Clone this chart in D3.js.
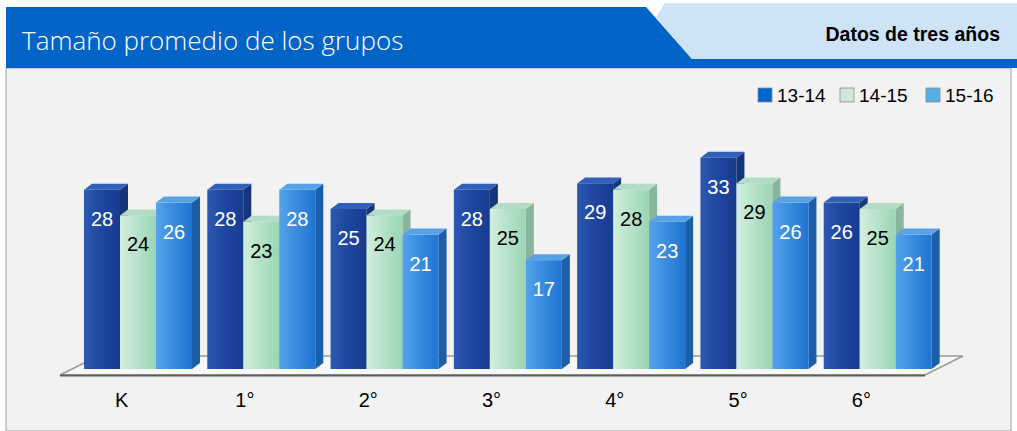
<!DOCTYPE html>
<html><head><meta charset="utf-8">
<script src="https://cdn.jsdelivr.net/npm/d3@7"></script>
<style>html,body{margin:0;padding:0;background:#fff;}svg{display:block;}</style>
</head><body>
<svg id="chart" width="1017" height="431"></svg>
<script>
const categories = ["K", "1°", "2°", "3°", "4°", "5°", "6°"];
const seriesNames = ["13-14", "14-15", "15-16"];
const values1314 = [28, 28, 25, 28, 29, 33, 26];
const values1415 = [24, 23, 24, 25, 28, 29, 25];
const values1516 = [26, 28, 21, 17, 23, 26, 21];
const title = "Tamaño promedio de los grupos";
const subtitle = "Datos de tres años";

const seriesValues = [values1314, values1415, values1516];
const W = 1017, H = 431;
const svg = d3.select("#chart");
const defs = svg.append("defs");

// background
svg.append("rect").attr("x", 0).attr("y", 0).attr("width", W).attr("height", H).attr("fill", "#ffffff");
svg.append("rect").attr("x", 6).attr("y", 68).attr("width", 1005).attr("height", H - 68)
  .attr("fill", "#f2f2f2").attr("stroke", "#a0a0a0").attr("stroke-width", 1);

// header
svg.append("polygon").attr("points", "6,7 646,7 692,59 1017,59 1017,68 6,68").attr("fill", "#0364c8");
svg.append("polygon").attr("points", "665,3 1017,3 1017,59 692,59 656,17").attr("fill", "#cfe3f6");
svg.append("text").attr("x", 22).attr("y", 50).attr("fill", "#ffffff")
  .attr("font-family", "'Open Sans', sans-serif").attr("font-weight", 300).attr("font-size", 26)
  .text(title);
svg.append("text").attr("x", 1000).attr("y", 41).attr("text-anchor", "end").attr("fill", "#000")
  .attr("font-family", "'Liberation Sans', Arial, sans-serif").attr("font-weight", "bold").attr("font-size", 19.5)
  .text(subtitle);

// scales
const baseY = 369;
const x0 = d3.scaleBand().domain(categories).range([74, 937]).padding(0);
const x1 = d3.scaleBand().domain(seriesNames).range([10, 118]).padding(0);
const y = d3.scaleLinear().domain([0, 35]).range([baseY, baseY - 35 * 6.4]);
const dx = 8, dy = 6;

// floor
svg.append("polygon").attr("points", "60,375 925,375 963,356 98,356")
  .attr("fill", "#f7f7f7").attr("stroke", "#9a9a9a").attr("stroke-width", 1.5);
svg.append("line").attr("x1", 60).attr("x2", 925).attr("y1", 375.5).attr("y2", 375.5)
  .attr("stroke", "#5e5e5e").attr("stroke-width", 2);

// colors
const palette = [
  {l: "#2d58b0", m: "#1f47a2", r: "#173b8e", side: "#14347c", top: "#3160b8", label: "#ffffff", legend: "#0066cc"},
  {l: "#d2efdf", m: "#b8e3ca", r: "#9bd5b4", side: "#88b59c", top: "#b4dcc4", label: "#000000", legend: "#cfe8dc"},
  {l: "#55a3ea", m: "#3b8de0", r: "#1f74d2", side: "#1d5ea8", top: "#5aa2e6", label: "#ffffff", legend: "#5aaee6"}
];
palette.forEach((p, i) => {
  const g = defs.append("linearGradient").attr("id", "front" + i).attr("x1", "0").attr("x2", "1").attr("y1", "0").attr("y2", "0");
  g.append("stop").attr("offset", "0").attr("stop-color", p.l);
  g.append("stop").attr("offset", "0.45").attr("stop-color", p.m);
  g.append("stop").attr("offset", "1").attr("stop-color", p.r);
});

// bars
const bw = x1.bandwidth();
categories.forEach((c, ci) => {
  seriesNames.forEach((s, si) => {
    const v = seriesValues[si][ci];
    const x = x0(c) + x1(s);
    const t = y(v);
    const p = palette[si];
    const g = svg.append("g");
    g.append("polygon")
      .attr("points", [[x + bw, t], [x + bw + dx, t - dy], [x + bw + dx, baseY - dy], [x + bw, baseY]].map(d => d.join(",")).join(" "))
      .attr("fill", p.side);
    g.append("polygon")
      .attr("points", [[x, t], [x + dx, t - dy], [x + bw + dx, t - dy], [x + bw, t]].map(d => d.join(",")).join(" "))
      .attr("fill", p.top);
    g.append("rect").attr("x", x).attr("y", t).attr("width", bw).attr("height", baseY - t)
      .attr("fill", "url(#front" + si + ")");
    g.append("text").attr("x", x + bw / 2).attr("y", t + 36).attr("text-anchor", "middle")
      .attr("fill", p.label).attr("font-family", "'Liberation Sans', Arial, sans-serif").attr("font-size", 20)
      .text(v);
  });
});

// x axis
const axis = svg.append("g").attr("transform", "translate(-14,392)")
  .call(d3.axisBottom(x0).tickSize(0).tickPadding(0));
axis.select(".domain").remove();
axis.selectAll("text").attr("font-family", "'Liberation Sans', Arial, sans-serif").attr("font-size", 20)
  .attr("fill", "#000").attr("dy", "0.75em");

// legend
const legendX = [758, 840, 926];
seriesNames.forEach((s, i) => {
  svg.append("rect").attr("x", legendX[i]).attr("y", 88).attr("width", 14).attr("height", 14)
    .attr("fill", palette[i].legend).attr("stroke", "#8a8a8a").attr("stroke-width", 0.8);
  svg.append("text").attr("x", legendX[i] + 19).attr("y", 102).attr("font-family", "'Liberation Sans', Arial, sans-serif")
    .attr("font-size", 19).attr("fill", "#000").text(s);
});
</script>
</body></html>
